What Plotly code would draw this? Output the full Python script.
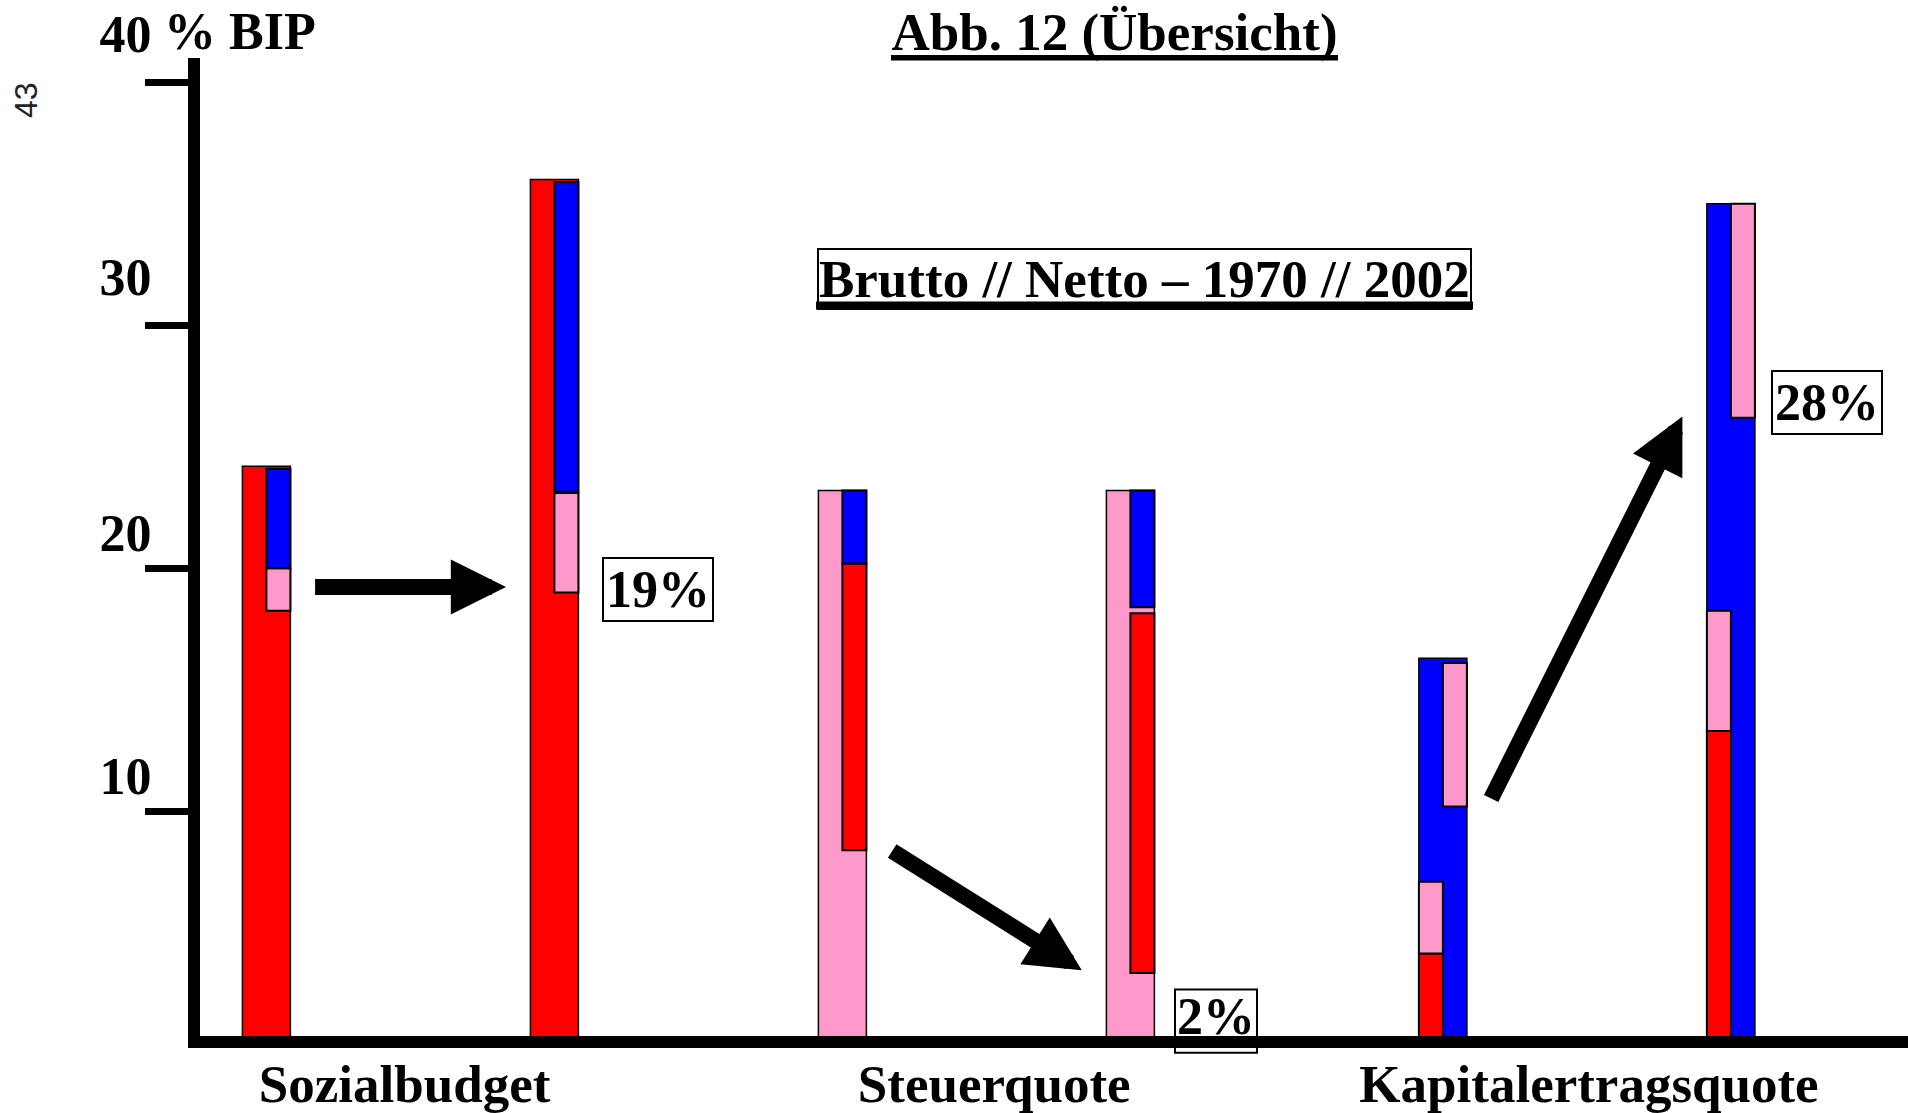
import plotly.graph_objects as go

# ---------------- data (% BIP) ----------------
GROUPS = ["Sozialbudget", "Steuerquote", "Kapitalertragsquote"]
YEARS = ["1970", "2002"]
Y_TICKS_LOW = [10, 20]
Y_TICKS_HIGH = [30, 40]

# columns: Sozialbudget 1970, 2002 | Steuerquote 1970, 2002 | Kapitalertragsquote 1970, 2002
TOTAL = [24.2, 36.0, 23.2, 23.2, 16.3, 35.0]
MAIN_SERIES = ["sozial", "sozial", "steuer", "steuer", "kapital", "kapital"]

# inset segments (low, high) per column, None where absent
SOZIAL_LEFT = [None, None, None, None, (0.0, 4.15), (0.0, 13.3)]
SOZIAL_RIGHT = [None, None, (8.4, 20.2), (3.35, 18.15), None, None]
STEUER_LEFT = [None, None, None, None, (4.15, 7.1), (13.3, 18.25)]
STEUER_RIGHT = [(18.25, 20.0), (19.0, 23.1), None, None, (10.2, 16.1), (26.2, 35.0)]
KAPITAL_RIGHT = [(20.0, 24.1), (23.15, 35.9), (20.2, 23.2), (18.4, 23.2), None, None]

CHANGE_LABELS = ["19%", "2%", "28%"]

# ---------------- style / layout ----------------
COL = {"sozial": "#FF0000", "steuer": "#FF99CC", "kapital": "#0000FF"}
SERIF = "Liberation Serif"
OFF = 0                      # page body margin (removed by post_script)
W, H = 1908, 1113
L, R, T, B = 200, 0, 58, 77
PPU = 24.3                   # pixels per percentage point
Y0_PX = 1054.3               # screen row of value 0
SLOT_PX = 288.0
X0_PX = 266.4                # screen column of slot 0
SLOTS = [0, 1, 2, 3, 4.085, 5.085]
HALF = 24 / SLOT_PX
GROUP_LABEL_PX = [404.6, 994.2, 1589.0]   # screen columns of the group labels


def dx(px):
    return (px - X0_PX) / SLOT_PX


def dy(py):
    return (Y0_PX - py) / PPU


def paper_x(px):
    return (px - OFF - L) / (W - L - R)


def paper_y(py):
    return (H - B - (py - OFF)) / (H - B - T)


X_RANGE = [dx(L + OFF), dx(W - R + OFF)]
Y_RANGE = [dy(H - B + OFF), dy(T + OFF)]

fig = go.Figure()

# main columns
for key in ["sozial", "steuer", "kapital"]:
    idx = [i for i, s in enumerate(MAIN_SERIES) if s == key]
    fig.add_bar(
        x=[SLOTS[i] for i in idx], y=[TOTAL[i] for i in idx], base=0,
        width=2 * HALF,
        marker=dict(color=COL[key], line=dict(color="black", width=1.5)),
        hoverinfo="skip",
    )


def add_insets(segs, key, side):
    idx = [i for i, s in enumerate(segs) if s]
    off = -HALF / 2 if side == "L" else HALF / 2
    fig.add_bar(
        x=[SLOTS[i] + off for i in idx],
        base=[segs[i][0] for i in idx],
        y=[segs[i][1] - segs[i][0] for i in idx],
        width=HALF,
        marker=dict(color=COL[key], line=dict(color="black", width=2)),
        hoverinfo="skip",
    )


add_insets(SOZIAL_LEFT, "sozial", "L")
add_insets(SOZIAL_RIGHT, "sozial", "R")
add_insets(STEUER_LEFT, "steuer", "L")
add_insets(STEUER_RIGHT, "steuer", "R")
add_insets(KAPITAL_RIGHT, "kapital", "R")

big = dict(family=SERIF, size=52, color="black", weight="bold")

# "2%" label (partly hidden under the baseline axis line)
fig.add_scatter(
    x=[dx(1216)], y=[dy(1021)], mode="text", text=[CHANGE_LABELS[1]],
    textposition="middle center", textfont=big, cliponaxis=False, hoverinfo="skip",
)
# carrier trace for the second (overlaid) y axis that labels 30 / 40
fig.add_scatter(x=[], y=[], yaxis="y2", mode="markers", hoverinfo="skip")

shapes = [
    dict(type="rect", xref="x", yref="paper", x0=dx(1175), x1=dx(1257),
         y0=paper_y(1052.7), y1=paper_y(989.5), line=dict(color="black", width=2),
         layer="below"),
    dict(type="line", xref="paper", yref="paper", x0=paper_x(891), x1=paper_x(1338),
         y0=paper_y(57.8), y1=paper_y(57.8), line=dict(color="black", width=5.5)),
    dict(type="rect", xref="paper", yref="paper", x0=paper_x(816), x1=paper_x(1473),
         y0=paper_y(309.5), y1=paper_y(301.5), fillcolor="black", line=dict(width=0)),
]

annotations = [
    dict(text="Brutto // Netto – 1970 // 2002", xref="paper", yref="paper",
         x=paper_x(1144.5), y=paper_y(278.5), xanchor="center", yanchor="middle",
         showarrow=False, font=dict(family=SERIF, size=53, color="black", weight="bold"),
         bordercolor="black", borderwidth=2, borderpad=0),
    dict(text=CHANGE_LABELS[0], xref="paper", yref="paper",
         x=paper_x(657.7), y=paper_y(589.6), xanchor="center", yanchor="middle",
         showarrow=False, font=big, bordercolor="black", borderwidth=2, borderpad=2,
         bgcolor="white"),
    dict(text=CHANGE_LABELS[2], xref="paper", yref="paper",
         x=paper_x(1827), y=paper_y(402.5), xanchor="center", yanchor="middle",
         showarrow=False, font=big, bordercolor="black", borderwidth=2, borderpad=2,
         bgcolor="white"),
    dict(text="% BIP", xref="paper", yref="paper", x=paper_x(162), y=paper_y(31.7),
         xanchor="left", yanchor="middle", showarrow=False, font=big),
    dict(text="43", xref="paper", yref="paper", x=paper_x(26), y=paper_y(100),
         xanchor="center", yanchor="middle", showarrow=False, textangle=-90,
         font=dict(family="Liberation Sans", size=32, color="#222")),
]

# arrows (tail -> tip), screen pixel positions
ARROWS = [((313.6, 587.0), (506.0, 587.0)),
          ((890.7, 850.0), (1081.8, 970.2)),
          ((1490.4, 800.0), (1682.4, 416.5))]
for (tx, ty), (hx, hy) in ARROWS:
    annotations.append(dict(
        x=dx(hx), y=dy(hy), ax=dx(tx), ay=dy(ty), xref="x", yref="y",
        axref="x", ayref="y", text="", showarrow=True, arrowhead=2,
        arrowwidth=16, arrowsize=0.69, arrowcolor="black", standoff=0,
    ))

yaxis_common = dict(
    range=Y_RANGE, showline=True, linewidth=12, linecolor="black",
    ticks="outside", ticklen=43, tickwidth=7, tickcolor="black", showgrid=False,
    zeroline=False, tickfont=big, ticklabelstandoff=-17, fixedrange=True,
    automargin=False, ticklabeloverflow="allow",
)

fig.update_layout(
    width=W, height=H, autosize=False,
    margin=dict(l=L, r=R, t=T, b=B, pad=0),
    paper_bgcolor="white", plot_bgcolor="white",
    barmode="overlay", bargap=0, showlegend=False,
    title=dict(text="Abb. 12 (Übersicht)", x=(1114.5 - OFF) / W,
               y=1 - (31.7 - OFF) / H, xref="container", yref="container",
               xanchor="center", yanchor="middle", automargin=False,
               font=dict(family=SERIF, size=53, color="black", weight="bold")),
    xaxis=dict(range=X_RANGE, tickvals=[dx(p) for p in GROUP_LABEL_PX],
               ticktext=GROUPS, showline=True, linewidth=12, linecolor="black",
               ticks="", showgrid=False, zeroline=False,
               tickfont=dict(family=SERIF, size=53, color="black", weight="bold"),
               ticklabelstandoff=-10, fixedrange=True, automargin=False,
               ticklabeloverflow="allow"),
    yaxis=dict(tickvals=Y_TICKS_LOW, ticktext=[str(v) for v in Y_TICKS_LOW],
               ticklabelshift=-36, **yaxis_common),
    yaxis2=dict(overlaying="y", side="left", anchor="x", tickvals=Y_TICKS_HIGH,
                ticktext=[str(v) for v in Y_TICKS_HIGH], ticklabelshift=-49,
                **yaxis_common),
    shapes=shapes, annotations=annotations,
)

fig.write_html(
    "out.html",
    config={"displayModeBar": False, "staticPlot": True},
    post_script="document.body.style.margin='0';document.body.style.overflow='hidden';",
)
